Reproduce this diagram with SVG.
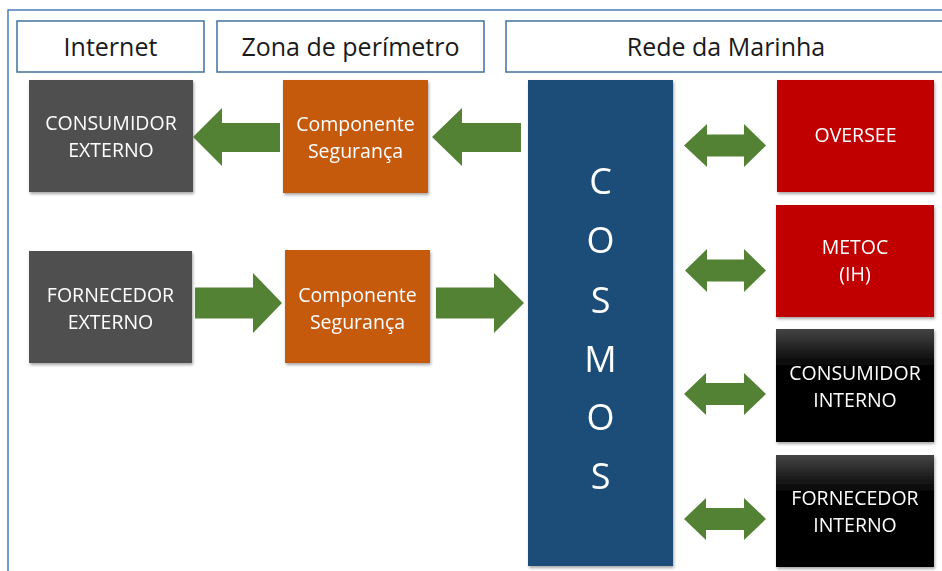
<svg xmlns="http://www.w3.org/2000/svg" width="942" height="571" viewBox="0 0 942 571">
<defs>
<linearGradient id="blk" x1="0" y1="0" x2="0" y2="1">
<stop offset="0" stop-color="#444"/>
<stop offset="0.35" stop-color="#000"/>
<stop offset="1" stop-color="#000"/>
</linearGradient>
<filter id="sh" x="-10%" y="-10%" width="125%" height="125%">
<feGaussianBlur in="SourceAlpha" stdDeviation="1.5"/>
<feOffset dx="1" dy="2" result="b"/>
<feComponentTransfer><feFuncA type="linear" slope="0.35"/></feComponentTransfer>
<feMerge><feMergeNode/><feMergeNode in="SourceGraphic"/></feMerge>
</filter>
</defs>
<style>
.frame{fill:#fff;stroke:#4a7ebb;stroke-width:1.5}
.hdr{fill:#fff;stroke:#41719c;stroke-width:1.5}
.ht{font-family:"Open Sans","Liberation Sans",sans-serif;font-size:25px;fill:#1a1a1a;text-anchor:middle}
.bt{font-family:"Open Sans","Liberation Sans",sans-serif;font-size:19.5px;fill:#fff;text-anchor:middle}
.ct{font-family:"Open Sans","Liberation Sans",sans-serif;font-size:36px;fill:#fff;text-anchor:middle}
.gray{fill:#505050}
.orange{fill:#c55a11}
.blue{fill:#1f4e79}
.red{fill:#c00000}
.black{fill:url(#blk)}
.arr{fill:#548235}
</style>
<rect width="942" height="571" fill="#fff"/>
<rect class="frame" x="8" y="10" width="960" height="600"/>

<g id="hdr-internet"><rect class="hdr" x="17" y="21" width="187" height="51"/><text class="ht" x="110.5" y="56">Internet</text></g>
<g id="hdr-zona"><rect class="hdr" x="217" y="21" width="267" height="51"/><text class="ht" x="350.5" y="56">Zona de perímetro</text></g>
<g id="hdr-rede"><rect class="hdr" x="506" y="21" width="440" height="51"/><text class="ht" x="726" y="56">Rede da Marinha</text></g>

<g id="consumidor-externo" filter="url(#sh)"><rect class="gray" x="29" y="80" width="164" height="112"/><text class="bt" x="111" y="129.5">CONSUMIDOR</text><text class="bt" x="111" y="157">EXTERNO</text></g>
<g id="componente-1" filter="url(#sh)"><rect class="orange" x="283" y="80" width="145" height="113"/><text class="bt" x="355.5" y="131">Componente</text><text class="bt" x="355.5" y="158">Segurança</text></g>
<g id="fornecedor-externo" filter="url(#sh)"><rect class="gray" x="29" y="251" width="163" height="112"/><text class="bt" x="110.5" y="302">FORNECEDOR</text><text class="bt" x="110.5" y="329">EXTERNO</text></g>
<g id="componente-2" filter="url(#sh)"><rect class="orange" x="285" y="250" width="145" height="113"/><text class="bt" x="357.5" y="302">Componente</text><text class="bt" x="357.5" y="329">Segurança</text></g>

<g id="cosmos" filter="url(#sh)"><rect class="blue" x="528" y="80" width="145" height="486"/>
<text class="ct" x="600.5" y="194">C</text><text class="ct" x="600.5" y="253">O</text><text class="ct" x="600.5" y="313">S</text><text class="ct" x="600.5" y="372">M</text><text class="ct" x="600.5" y="430">O</text><text class="ct" x="600.5" y="489">S</text></g>

<g id="oversee" filter="url(#sh)"><rect class="red" x="777" y="80" width="157" height="112"/><text class="bt" x="855.5" y="142">OVERSEE</text></g>
<g id="metoc" filter="url(#sh)"><rect class="red" x="776" y="205" width="158" height="112"/><text class="bt" x="855" y="254">METOC</text><text class="bt" x="855" y="281">(IH)</text></g>
<g id="consumidor-interno" filter="url(#sh)"><rect class="black" x="776" y="329" width="158" height="113"/><text class="bt" x="855" y="380">CONSUMIDOR</text><text class="bt" x="855" y="407">INTERNO</text></g>
<g id="fornecedor-interno" filter="url(#sh)"><rect class="black" x="776" y="455" width="158" height="112"/><text class="bt" x="855" y="505">FORNECEDOR</text><text class="bt" x="855" y="532">INTERNO</text></g>

<g id="connectors">
<polygon class="arr" points="193,137 222,108 222,123 280,123 280,152 222,152 222,166"/>
<polygon class="arr" points="432,137 462,108 462,123 521,123 521,152 462,152 462,166"/>
<polygon class="arr" points="282,303 253,273 253,287.5 195,287.5 195,318.5 253,318.5 253,333"/>
<polygon class="arr" points="524,303 494,273 494,287.5 436,287.5 436,318.5 494,318.5 494,333"/>
<polygon class="arr" points="684,145.5 707,124 707,134.5 744,134.5 744,124 766,145.5 744,167 744,156.5 707,156.5 707,167"/>
<polygon class="arr" points="685,270.5 707,249 707,259.5 744,259.5 744,249 766,270.5 744,292 744,281.5 707,281.5 707,292"/>
<polygon class="arr" points="684,394 706,373 706,383 744,383 744,373 766,394 744,415 744,405 706,405 706,415"/>
<polygon class="arr" points="684,519 706,498 706,508 744,508 744,498 766,519 744,540 744,530 706,530 706,540"/>
</g>
</svg>
